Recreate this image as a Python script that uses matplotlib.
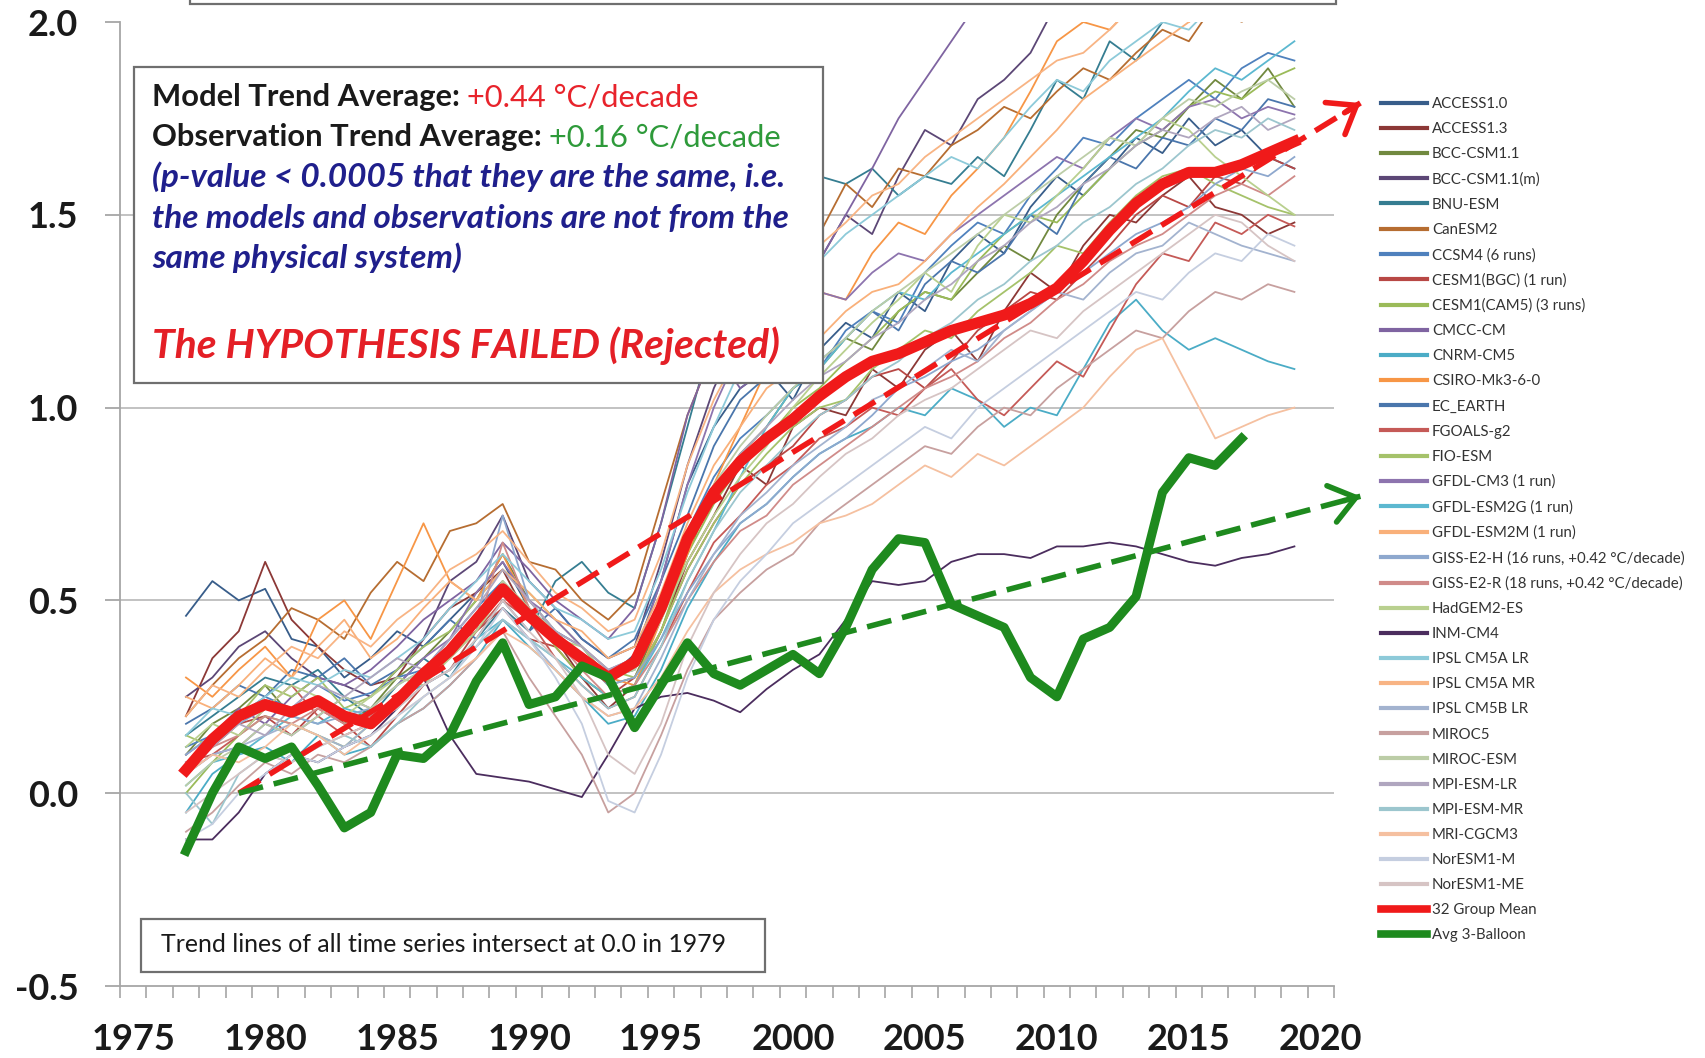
import matplotlib
matplotlib.use("Agg")
import matplotlib.pyplot as plt
from matplotlib.patches import Rectangle
import numpy as np

plt.rcParams['font.family'] = ['Lato', 'DejaVu Sans']

# ---------------- data ----------------
years = list(range(1977, 2020))
obs_years = list(range(1977, 2018))

access10 = [0.46,0.55,0.50,0.53,0.40,0.38,0.30,0.35,0.42,0.38,0.45,0.52,0.60,0.48,0.42,0.38,0.30,0.36,0.55,0.80,0.95,1.05,1.10,1.02,1.15,1.22,1.18,1.30,1.25,1.38,1.45,1.40,1.52,1.60,1.55,1.62,1.70,1.66,1.75,1.68,1.72,1.65,1.62]
access13 = [0.20,0.35,0.42,0.60,0.45,0.38,0.32,0.28,0.30,0.40,0.48,0.52,0.58,0.45,0.40,0.30,0.22,0.28,0.42,0.60,0.72,0.85,0.80,0.95,1.00,0.98,1.10,1.05,1.15,1.20,1.12,1.25,1.35,1.30,1.42,1.50,1.48,1.55,1.60,1.52,1.50,1.45,1.48]
bcc_csm11 = [0.10,0.18,0.22,0.28,0.20,0.25,0.18,0.22,0.30,0.35,0.42,0.50,0.62,0.50,0.42,0.35,0.28,0.30,0.45,0.62,0.78,0.88,0.95,1.05,1.10,1.18,1.15,1.25,1.30,1.28,1.35,1.42,1.38,1.50,1.58,1.65,1.72,1.70,1.78,1.85,1.80,1.88,1.78]
bcc_csm11m = [0.25,0.30,0.38,0.42,0.35,0.30,0.28,0.25,0.32,0.40,0.55,0.60,0.72,0.55,0.48,0.40,0.35,0.38,0.60,0.85,1.05,1.20,1.30,1.28,1.38,1.50,1.45,1.60,1.72,1.68,1.80,1.85,1.92,2.05,2.10,2.05,2.15,2.20,2.10,2.20,2.25,2.15,2.20]
bnu_esm = [0.15,0.20,0.25,0.30,0.28,0.32,0.25,0.20,0.28,0.35,0.30,0.40,0.48,0.42,0.55,0.60,0.52,0.48,0.70,0.95,1.20,1.40,1.45,1.55,1.60,1.58,1.62,1.55,1.60,1.58,1.65,1.60,1.72,1.85,1.80,1.95,1.90,2.00,2.05,2.10,2.00,2.10,2.15]
canesm2 = [0.20,0.28,0.35,0.40,0.48,0.45,0.40,0.52,0.60,0.55,0.68,0.70,0.75,0.60,0.58,0.50,0.45,0.52,0.75,0.98,1.15,1.25,1.30,1.38,1.45,1.58,1.52,1.62,1.60,1.68,1.72,1.78,1.75,1.82,1.88,1.85,1.92,1.98,1.95,2.05,2.10,2.05,2.12]
ccsm4 = [0.12,0.15,0.20,0.25,0.22,0.28,0.24,0.26,0.30,0.32,0.40,0.48,0.55,0.45,0.40,0.35,0.30,0.32,0.48,0.68,0.82,0.92,0.98,1.05,1.10,1.20,1.25,1.22,1.35,1.42,1.48,1.45,1.55,1.62,1.70,1.68,1.75,1.80,1.85,1.80,1.88,1.92,1.90]
cesm1_bgc = [0.05,0.12,0.18,0.20,0.15,0.22,0.18,0.12,0.20,0.28,0.32,0.42,0.48,0.40,0.38,0.30,0.25,0.30,0.42,0.58,0.70,0.80,0.85,0.90,0.98,1.02,1.08,1.10,1.05,1.12,1.20,1.25,1.30,1.28,1.35,1.42,1.50,1.55,1.52,1.60,1.58,1.65,1.62]
cesm1_cam5 = [0.00,0.08,0.15,0.20,0.18,0.15,0.12,0.18,0.22,0.30,0.35,0.45,0.55,0.48,0.38,0.30,0.25,0.28,0.42,0.62,0.75,0.85,0.92,1.00,1.05,1.12,1.18,1.25,1.30,1.28,1.38,1.45,1.50,1.48,1.55,1.62,1.68,1.72,1.78,1.82,1.80,1.85,1.88]
cmcc_cm = [0.10,0.15,0.22,0.18,0.25,0.30,0.28,0.32,0.38,0.45,0.50,0.55,0.65,0.58,0.50,0.45,0.40,0.48,0.70,0.98,1.15,1.05,1.10,1.22,1.38,1.50,1.62,1.75,1.85,1.95,2.05,2.10,2.15,2.20,2.25,2.30,2.35,2.30,2.40,2.45,2.40,2.45,2.50]
cnrm_cm5 = [-0.05,0.05,0.10,0.12,0.08,0.15,0.10,0.12,0.18,0.22,0.28,0.35,0.45,0.38,0.32,0.25,0.18,0.20,0.32,0.48,0.60,0.70,0.75,0.82,0.88,0.92,0.95,1.00,0.98,1.05,1.02,0.95,1.00,0.98,1.10,1.22,1.28,1.20,1.15,1.18,1.15,1.12,1.10]
csiro = [0.30,0.25,0.32,0.38,0.30,0.45,0.50,0.40,0.55,0.70,0.55,0.50,0.62,0.48,0.40,0.35,0.30,0.28,0.45,0.62,0.80,0.95,1.10,1.22,1.30,1.28,1.40,1.48,1.45,1.55,1.62,1.70,1.82,1.95,2.00,1.98,2.05,2.10,2.00,2.05,2.10,2.15,2.10]
ec_earth = [0.18,0.22,0.28,0.25,0.32,0.30,0.35,0.28,0.32,0.38,0.45,0.40,0.50,0.42,0.48,0.40,0.35,0.40,0.55,0.72,0.90,1.02,1.08,1.15,1.12,1.18,1.25,1.20,1.32,1.38,1.35,1.40,1.50,1.45,1.58,1.65,1.62,1.70,1.68,1.75,1.72,1.80,1.78]
fgoals_g2 = [0.08,0.10,0.15,0.22,0.28,0.20,0.15,0.18,0.25,0.30,0.38,0.42,0.50,0.45,0.35,0.28,0.22,0.25,0.38,0.52,0.65,0.72,0.80,0.85,0.92,0.95,1.00,0.98,1.05,1.10,1.02,0.98,1.05,1.12,1.08,1.20,1.32,1.40,1.38,1.48,1.45,1.50,1.47]
fio_esm = [0.15,0.12,0.20,0.28,0.25,0.30,0.22,0.25,0.32,0.38,0.42,0.50,0.58,0.52,0.45,0.38,0.32,0.30,0.42,0.58,0.70,0.80,0.88,0.95,1.00,1.02,1.10,1.15,1.20,1.18,1.25,1.30,1.35,1.42,1.40,1.48,1.55,1.60,1.62,1.58,1.55,1.52,1.50]
gfdl_cm3 = [0.05,0.10,0.12,0.18,0.15,0.20,0.25,0.22,0.28,0.35,0.40,0.52,0.60,0.50,0.45,0.38,0.32,0.35,0.55,0.80,1.00,1.15,1.20,1.25,1.30,1.28,1.35,1.40,1.38,1.45,1.50,1.55,1.60,1.65,1.62,1.70,1.75,1.72,1.78,1.80,1.75,1.78,1.76]
gfdl_esm2g = [0.02,0.08,0.10,0.15,0.20,0.18,0.22,0.20,0.25,0.28,0.32,0.40,0.45,0.40,0.35,0.30,0.25,0.28,0.40,0.55,0.68,0.82,0.95,1.05,1.10,1.18,1.25,1.30,1.28,1.35,1.40,1.45,1.50,1.55,1.60,1.65,1.70,1.75,1.82,1.88,1.85,1.90,1.95]
gfdl_esm2m = [0.25,0.22,0.28,0.35,0.30,0.38,0.45,0.35,0.40,0.48,0.55,0.50,0.58,0.52,0.45,0.42,0.35,0.38,0.52,0.70,0.85,0.95,1.05,1.10,1.18,1.25,1.30,1.32,1.38,1.45,1.52,1.58,1.65,1.72,1.80,1.85,1.90,1.95,2.00,2.05,2.00,2.05,2.02]
giss_e2_h = [0.10,0.15,0.18,0.22,0.20,0.18,0.20,0.22,0.28,0.32,0.38,0.45,0.72,0.50,0.42,0.35,0.28,0.30,0.40,0.52,0.62,0.70,0.75,0.82,0.88,0.92,0.98,1.05,1.08,1.12,1.15,1.20,1.25,1.30,1.35,1.40,1.45,1.48,1.52,1.58,1.62,1.60,1.65]
giss_e2_r = [0.08,0.12,0.15,0.20,0.18,0.22,0.18,0.20,0.25,0.30,0.35,0.42,0.65,0.48,0.40,0.32,0.25,0.28,0.38,0.50,0.60,0.68,0.72,0.80,0.85,0.90,0.95,1.00,1.05,1.08,1.12,1.18,1.22,1.28,1.32,1.38,1.42,1.45,1.50,1.55,1.58,1.55,1.60]
hadgem2_es = [0.12,0.18,0.15,0.22,0.28,0.25,0.20,0.25,0.30,0.28,0.35,0.42,0.52,0.45,0.40,0.38,0.30,0.32,0.45,0.60,0.72,0.82,0.90,1.00,1.08,1.15,1.22,1.28,1.35,1.30,1.42,1.50,1.48,1.55,1.62,1.70,1.68,1.75,1.72,1.65,1.60,1.55,1.50]
inm_cm4 = [-0.12,-0.12,-0.05,0.05,0.10,0.08,0.12,0.15,0.22,0.30,0.15,0.05,0.04,0.03,0.01,-0.01,0.10,0.22,0.25,0.26,0.24,0.21,0.27,0.32,0.36,0.45,0.55,0.54,0.55,0.60,0.62,0.62,0.61,0.64,0.64,0.65,0.64,0.62,0.60,0.59,0.61,0.62,0.64]
ipsl_cm5a_lr = [0.15,0.22,0.20,0.25,0.30,0.28,0.32,0.30,0.35,0.40,0.48,0.55,0.62,0.55,0.48,0.45,0.40,0.42,0.58,0.78,0.95,1.10,1.22,1.30,1.38,1.45,1.50,1.55,1.60,1.65,1.62,1.70,1.78,1.85,1.82,1.90,1.95,2.00,1.98,2.05,2.02,2.10,2.08]
ipsl_cm5a_mr = [0.20,0.28,0.25,0.32,0.38,0.35,0.42,0.38,0.45,0.50,0.58,0.62,0.68,0.60,0.52,0.48,0.42,0.45,0.62,0.85,1.02,1.15,1.25,1.35,1.42,1.48,1.55,1.58,1.65,1.70,1.75,1.80,1.85,1.90,1.92,1.98,2.05,2.02,2.10,2.08,2.15,2.12,2.18]
ipsl_cm5b_lr = [0.05,0.10,0.12,0.15,0.18,0.15,0.12,0.18,0.22,0.28,0.32,0.38,0.45,0.40,0.32,0.25,0.20,0.22,0.35,0.50,0.62,0.72,0.78,0.85,0.90,0.95,1.02,1.05,1.10,1.15,1.12,1.20,1.25,1.30,1.28,1.35,1.40,1.42,1.48,1.45,1.42,1.40,1.38]
miroc5 = [-0.10,-0.05,0.02,0.08,0.05,0.10,0.08,0.12,0.18,0.22,0.28,0.35,0.42,0.30,0.20,0.10,-0.05,0.00,0.15,0.32,0.45,0.52,0.58,0.62,0.70,0.75,0.80,0.85,0.90,0.88,0.95,1.00,0.98,1.05,1.10,1.15,1.20,1.18,1.25,1.30,1.28,1.32,1.30]
miroc_esm = [0.02,0.08,0.12,0.18,0.15,0.20,0.25,0.22,0.28,0.32,0.38,0.45,0.55,0.48,0.42,0.35,0.30,0.32,0.45,0.65,0.80,0.90,0.98,1.05,1.12,1.18,1.25,1.30,1.35,1.40,1.45,1.50,1.55,1.60,1.65,1.70,1.68,1.75,1.80,1.78,1.82,1.85,1.80]
mpi_esm_lr = [0.08,0.12,0.18,0.15,0.22,0.28,0.25,0.30,0.35,0.32,0.40,0.48,0.58,0.50,0.42,0.38,0.32,0.35,0.48,0.65,0.78,0.88,0.95,1.02,1.08,1.12,1.18,1.22,1.28,1.32,1.38,1.42,1.48,1.52,1.58,1.62,1.68,1.72,1.70,1.75,1.78,1.72,1.75]
mpi_esm_mr = [0.00,-0.08,0.05,0.10,0.08,0.12,0.15,0.12,0.18,0.25,0.30,0.38,0.45,0.40,0.35,0.28,0.22,0.25,0.38,0.55,0.68,0.78,0.85,0.92,0.98,1.02,1.08,1.12,1.18,1.22,1.28,1.32,1.38,1.42,1.48,1.52,1.58,1.62,1.68,1.72,1.70,1.75,1.72]
mri_cgcm3 = [0.05,0.10,0.08,0.12,0.18,0.15,0.10,0.15,0.20,0.25,0.30,0.35,0.42,0.38,0.32,0.25,0.20,0.22,0.30,0.42,0.52,0.58,0.62,0.65,0.70,0.72,0.75,0.80,0.85,0.82,0.88,0.85,0.90,0.95,1.00,1.08,1.15,1.18,1.05,0.92,0.95,0.98,1.00]
noresm1_m = [-0.12,-0.08,0.00,0.05,0.10,0.08,0.12,0.15,0.20,0.25,0.30,0.38,0.48,0.40,0.30,0.18,-0.02,-0.05,0.10,0.30,0.45,0.55,0.62,0.70,0.75,0.80,0.85,0.90,0.95,0.92,1.00,1.05,1.10,1.15,1.20,1.25,1.30,1.28,1.35,1.40,1.38,1.45,1.42]
noresm1_me = [-0.05,0.00,0.05,0.10,0.08,0.12,0.15,0.18,0.22,0.28,0.32,0.40,0.50,0.42,0.35,0.25,0.10,0.05,0.18,0.38,0.52,0.62,0.70,0.75,0.82,0.88,0.92,0.98,1.02,1.05,1.10,1.15,1.20,1.18,1.25,1.30,1.35,1.40,1.45,1.50,1.48,1.42,1.38]

group_mean = [0.06,0.14,0.20,0.23,0.21,0.24,0.20,0.18,0.24,0.31,0.37,0.45,0.53,0.46,0.40,0.35,0.30,0.34,0.48,0.66,0.78,0.86,0.92,0.97,1.03,1.08,1.12,1.14,1.17,1.20,1.22,1.24,1.27,1.31,1.38,1.46,1.53,1.58,1.61,1.61,1.63,1.66,1.69]
balloon = [-0.15,0.00,0.12,0.09,0.12,0.02,-0.09,-0.05,0.10,0.09,0.15,0.29,0.39,0.23,0.25,0.33,0.30,0.17,0.28,0.39,0.31,0.28,0.32,0.36,0.31,0.43,0.58,0.66,0.65,0.49,0.46,0.43,0.30,0.25,0.40,0.43,0.51,0.78,0.87,0.85,0.92]

trend_years = [1979, 2021.5]
model_trend = [0.0, 1.79]
obs_trend = [0.0, 0.77]

model_labels = ["ACCESS1.0", "ACCESS1.3", "BCC-CSM1.1", "BCC-CSM1.1(m)", "BNU-ESM", "CanESM2",
                "CCSM4 (6 runs)", "CESM1(BGC) (1 run)", "CESM1(CAM5) (3 runs)", "CMCC-CM", "CNRM-CM5",
                "CSIRO-Mk3-6-0", "EC_EARTH", "FGOALS-g2", "FIO-ESM", "GFDL-CM3 (1 run)",
                "GFDL-ESM2G (1 run)", "GFDL-ESM2M (1 run)", "GISS-E2-H (16 runs, +0.42 °C/decade)",
                "GISS-E2-R (18 runs, +0.42 °C/decade)", "HadGEM2-ES", "INM-CM4", "IPSL CM5A LR",
                "IPSL CM5A MR", "IPSL CM5B LR", "MIROC5", "MIROC-ESM", "MPI-ESM-LR", "MPI-ESM-MR",
                "MRI-CGCM3", "NorESM1-M", "NorESM1-ME"]
model_series = [access10, access13, bcc_csm11, bcc_csm11m, bnu_esm, canesm2, ccsm4, cesm1_bgc,
                cesm1_cam5, cmcc_cm, cnrm_cm5, csiro, ec_earth, fgoals_g2, fio_esm, gfdl_cm3,
                gfdl_esm2g, gfdl_esm2m, giss_e2_h, giss_e2_r, hadgem2_es, inm_cm4, ipsl_cm5a_lr,
                ipsl_cm5a_mr, ipsl_cm5b_lr, miroc5, miroc_esm, mpi_esm_lr, mpi_esm_mr, mri_cgcm3,
                noresm1_m, noresm1_me]
model_colors = ["#385D8A", "#8C3836", "#71893F", "#5C4776", "#357D91", "#B66D31",
                "#4F81BD", "#B84845", "#9BBB59", "#7F64A1", "#4BACC6", "#F79646",
                "#4A76AC", "#C55A57", "#A5C26A", "#8D74AE", "#5CB8D0", "#F9B07A",
                "#8EA8CE", "#D08B89", "#B9D08F", "#4B2D5E", "#8DCAD9", "#F8B484",
                "#A3B3CF", "#C7A09F", "#BCCDA7", "#B0A6BF", "#9CC6CE", "#F5C0A0",
                "#C5CEE0", "#D6C4C4"]

mean_color = "#F01A1A"
obs_color = "#1E8A1E"

y_ticks = [-0.5, 0.0, 0.5, 1.0, 1.5, 2.0]
x_labels = [1975, 1980, 1985, 1990, 1995, 2000, 2005, 2010, 2015, 2020]

# ---------------- figure ----------------
W, H = 1706, 1058
fig = plt.figure(figsize=(W / 100, H / 100), dpi=100)
fig.patch.set_facecolor("white")

def fx(px):
    return px / W

def fy(py):
    return 1 - py / H

ax = fig.add_axes([fx(120), fy(986), fx(1334) - fx(120), fy(22) - fy(986)])
ax.set_xlim(1974.5, 2020.5)
ax.set_ylim(-0.5, 2.0)

for s in ["top", "right"]:
    ax.spines[s].set_visible(False)
for s in ["left", "bottom"]:
    ax.spines[s].set_color("#A6A6A6")
    ax.spines[s].set_linewidth(1.3)

for v in y_ticks:
    if -0.5 < v < 2.0:
        ax.axhline(v, color="#BDBDBD", lw=1.3, zorder=0)

ax.set_yticks(y_ticks)
ax.set_yticklabels([f"{v:.1f}" for v in y_ticks])
ax.tick_params(axis="y", direction="out", length=11, width=1.3, color="#A6A6A6",
               pad=19, labelsize=26, labelcolor="#1A1A1A")
ax.set_xticks(x_labels)
ax.set_xticklabels([str(v) for v in x_labels])
ax.set_xticks(np.arange(1974.5, 2021.0, 1.0), minor=True)
ax.tick_params(axis="x", which="major", length=0, pad=27, labelsize=26, labelcolor="#1A1A1A")
ax.tick_params(axis="x", which="minor", direction="out", length=8.5, width=1.2, color="#A6A6A6")
for lab in ax.get_xticklabels() + ax.get_yticklabels():
    lab.set_fontweight("bold")

handles = []
for name, vals, col in zip(model_labels, model_series, model_colors):
    ln, = ax.plot(years, vals, color=col, lw=1.3, zorder=2, label=name)
    handles.append(ln)

ax.plot(trend_years, model_trend, color=mean_color, lw=4, dashes=(4.5, 2.0), zorder=3,
        clip_on=False)
ax.plot(trend_years, obs_trend, color=obs_color, lw=4, dashes=(4.5, 2.0), zorder=3,
        clip_on=False)

mean_ln, = ax.plot(years, group_mean, color=mean_color, lw=8, zorder=4,
                   solid_joinstyle="round", label="32 Group Mean")
obs_ln, = ax.plot(obs_years, balloon, color=obs_color, lw=6.5, zorder=4,
                  solid_joinstyle="round", label="Avg 3-Balloon")
handles += [mean_ln, obs_ln]

# arrow heads on trend lines
for tv, col in [(model_trend, mean_color), (obs_trend, obs_color)]:
    x1, y1 = trend_years[1], tv[1]
    x0 = x1 - 0.6
    y0 = y1 - (tv[1] - tv[0]) / (trend_years[1] - trend_years[0]) * 0.6
    ax.annotate("", xy=(x1, y1), xytext=(x0, y0), annotation_clip=False,
                arrowprops=dict(arrowstyle="->,head_length=0.6,head_width=0.45",
                                color=col, lw=4, mutation_scale=30,
                                shrinkA=0, shrinkB=0), zorder=5)

# legend
leg = fig.legend(handles=handles, labels=[h.get_label() for h in handles],
                 loc="upper left", bbox_to_anchor=(fx(1381), fy(97)),
                 frameon=False, fontsize=10.8, handlelength=3.1, handletextpad=0.3,
                 labelspacing=0.74, borderpad=0, borderaxespad=0)
for t in leg.get_texts():
    t.set_color("#333333")
for i, lh in enumerate(leg.legend_handles):
    lh.set_linewidth(5.5 if i >= 32 else 3.0)

# top cut-off box
fig.add_artist(Rectangle((fx(190), fy(4)), fx(1336) - fx(190), 0.1,
                         transform=fig.transFigure, facecolor="white",
                         edgecolor="#6F6F6F", lw=1.6, zorder=10))

# main annotation box
fig.add_artist(Rectangle((fx(134), fy(383)), fx(823) - fx(134), fy(67) - fy(383),
                         transform=fig.transFigure, facecolor="white",
                         edgecolor="#6F6F6F", lw=1.6, zorder=10))

fs = 22.2
t1 = fig.text(fx(152), fy(97), "Model Trend Average:", fontsize=fs, fontweight="bold",
              color="#1A1A1A", va="center", ha="left", zorder=11)
fig.add_artist(plt.Annotation("+0.44 °C/decade", xy=(1, 0.5), xycoords=t1,
                              xytext=(5, 0), textcoords="offset points",
                              fontsize=fs, color="#E8232B", va="center", ha="left", zorder=11))
t2 = fig.text(fx(152), fy(137), "Observation Trend Average:", fontsize=fs, fontweight="bold",
              color="#1A1A1A", va="center", ha="left", zorder=11)
fig.add_artist(plt.Annotation("+0.16 °C/decade", xy=(1, 0.5), xycoords=t2,
                              xytext=(5, 0), textcoords="offset points",
                              fontsize=fs, color="#2E9A3A", va="center", ha="left", zorder=11))
for txt, py in [("(p-value < 0.0005 that they are the same, i.e.", 177),
                ("the models and observations are not from the", 218),
                ("same physical system)", 258)]:
    fig.text(fx(152), fy(py), txt, fontsize=24, fontweight="bold", fontstyle="italic",
             color="#1F1F8C", va="center", ha="left", zorder=11)
fig.text(fx(152), fy(346), "The HYPOTHESIS FAILED (Rejected)", fontsize=29.3,
         fontweight="bold", fontstyle="italic", color="#E41F26",
         va="center", ha="left", zorder=11)

# bottom note box
fig.add_artist(Rectangle((fx(141), fy(972)), fx(765) - fx(141), fy(919) - fy(972),
                         transform=fig.transFigure, facecolor="white",
                         edgecolor="#6F6F6F", lw=1.6, zorder=10))
fig.text(fx(161), fy(945), "Trend lines of all time series intersect at 0.0 in 1979",
         fontsize=17.9, color="#1A1A1A", va="center", ha="left", zorder=11)

fig.savefig("out.png", dpi=100, facecolor="white")
